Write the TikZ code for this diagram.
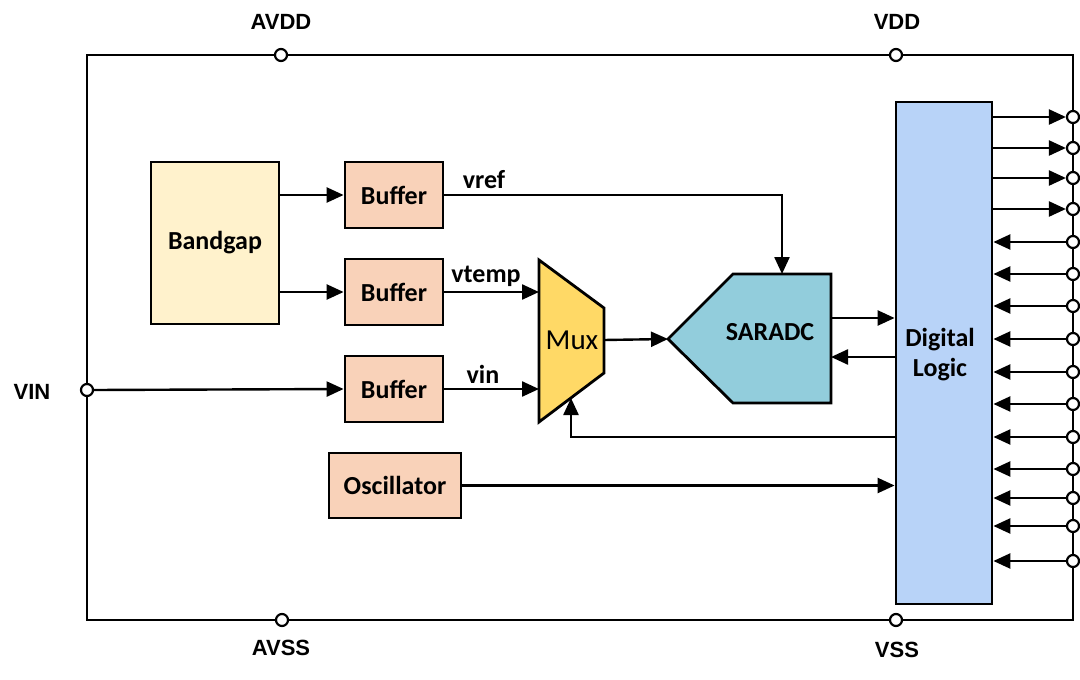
\documentclass[tikz,border=0pt]{standalone}
\usepackage{fontspec}
\setmainfont{Carlito}
\newfontfamily\arialfont{Liberation Sans}
\usetikzlibrary{arrows.meta}
\definecolor{bgfill}{HTML}{FFF2CC}
\definecolor{buffill}{HTML}{F9D2B9}
\definecolor{muxfill}{HTML}{FFD966}
\definecolor{adcfill}{HTML}{92CDDC}
\definecolor{dlfill}{HTML}{B8D3F8}
\tikzset{
  blk/.style={draw=black, line width=2.8pt, inner sep=0pt, font=\fontsize{26}{31}\selectfont\bfseries, align=center},
  wire/.style={line width=2.4pt},
  arr/.style={line width=2.4pt, -{Triangle[length=17pt,width=15pt]}},
  pinc/.style={circle, draw=black, fill=white, line width=2.2pt, inner sep=0pt, minimum size=12pt},
  pinlbl/.style={font=\arialfont\fontsize{22}{26}\selectfont\bfseries},
  sig/.style={font=\fontsize{26}{31}\selectfont\bfseries, align=center}
}
\begin{document}
\begin{tikzpicture}[x=1pt,y=-1pt]
\useasboundingbox[fill=white] (0,0) rectangle (1080,680);
% frame
\draw[wire] (87,55) rectangle (1073,620);
% power pins
\node[pinc] (avdd) at (281,55) {};
\node[pinc] (vdd) at (896,55) {};
\node[pinc] (avss) at (282,620) {};
\node[pinc] (vss) at (896,620) {};
\node[pinlbl] (avddl) at (281,22) {AVDD};
\node[pinlbl] (vddl) at (897,22) {VDD};
\node[pinlbl] (avssl) at (281,648) {AVSS};
\node[pinlbl] (vssl) at (897,650) {VSS};
\node[pinlbl] (vinl) at (32,392) {VIN};
% blocks
\node[blk, fill=bgfill, minimum width=128pt, minimum height=162pt] (bg) at (215,243) {Bandgap};
\node[blk, fill=buffill, minimum width=98pt, minimum height=66pt] (b1) at (394,195) {Buffer};
\node[blk, fill=buffill, minimum width=98pt, minimum height=66pt] (b2) at (394,292) {Buffer};
\node[blk, fill=buffill, minimum width=98pt, minimum height=66pt] (b3) at (394,389) {Buffer};
\node[blk, fill=buffill, minimum width=132pt, minimum height=65pt] (osc) at (395,485.5) {Oscillator};
\node[blk, fill=dlfill, minimum width=96pt, minimum height=502pt] (dl) at (944,353) {};
\node[sig] (dltext) at (940,355) {Digital\\[-1pt]Logic};
% Mux
\draw[line width=2.8pt, fill=muxfill, line join=miter] (539,260) -- (604,308) -- (604,373) -- (539,422) -- cycle;
\node[font=\fontsize{29}{33}\selectfont] (mux) at (572,340) {Mux};
\coordinate (muxin1) at (539,292);
\coordinate (muxin2) at (539,389);
\coordinate (muxout) at (604,340);
\coordinate (muxsel) at (571,398);
% SARADC
\draw[line width=2.8pt, fill=adcfill] (668,339) -- (733,274) -- (831,274) -- (831,403) -- (733,403) -- cycle;
\node[sig] (adc) at (770,332) {SARADC};
\coordinate (adcin) at (668,339);
\coordinate (adctop) at (782,274);
\coordinate (adcr1) at (831,318);
\coordinate (adcr2) at (831,357);
% VIN pin
\node[pinc] (vin) at (87,390) {};
% connections
\draw[arr] (bg.east |- b1) -- (b1.west);
\draw[arr] (bg.east |- b2) -- (b2.west);
\draw[arr] (vin.east) -- (b3.west);
\draw[arr] (b1.east) -| (adctop);
\draw[arr] (b2.east) -- (muxin1);
\draw[arr] (b3.east) -- (muxin2);
\draw[arr] (muxout) -- (adcin);
\draw[arr] (adcr1) -- (dl.west |- adcr1);
\draw[arr] (dl.west |- adcr2) -- (adcr2);
\coordinate (selsrc) at (896,437);
\draw[arr] (selsrc) -| (muxsel);
\draw[arr] (osc.east) -- (dl.west |- osc);
\node[sig] (vrefl) at (484,180) {vref};
\node[sig] (vtempl) at (486,276) {vtemp};
\node[sig] (vinlb) at (483,374) {vin};
% right side pins
\foreach \n/\y in {1/117,2/148,3/178,4/209}{
  \node[pinc] (o\n) at (1073,\y) {};
  \draw[arr] (dl.east |- o\n) -- (o\n.west);
}
\foreach \n/\y in {1/242,2/274,3/306,4/339,5/372,6/404,7/437,8/469,9/498,10/526,11/561}{
  \node[pinc] (i\n) at (1073,\y) {};
  \draw[arr] (i\n.west) -- (dl.east |- i\n);
}
\end{tikzpicture}
\end{document}
